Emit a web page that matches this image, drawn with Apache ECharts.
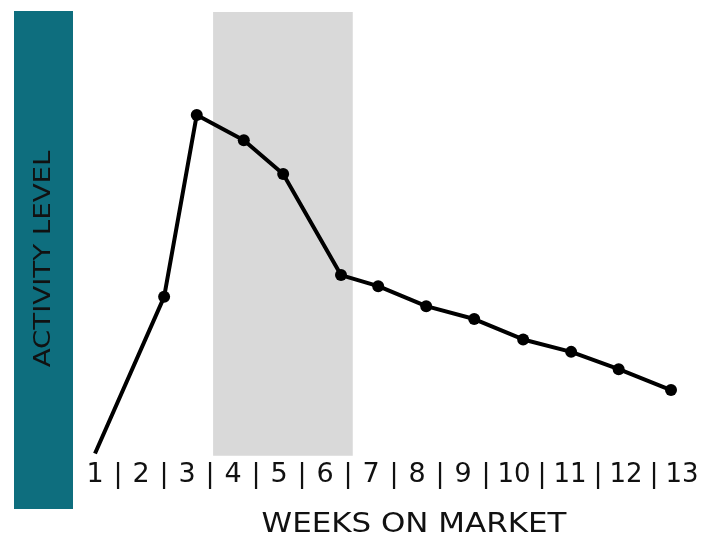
<!DOCTYPE html>
<html>
<head>
<meta charset="utf-8">
<script src="https://cdn.jsdelivr.net/npm/echarts@6/dist/echarts.min.js"></script>
<style>
  html, body { margin: 0; padding: 0; background: #ffffff; }
  #chart { width: 708px; height: 537px; }
</style>
</head>
<body>
<div id="chart"></div>
<script>
// Week position of each observation (fractional where the point sits between weeks)
const weeks = [1, 2.44, 3.12, 4.1, 4.92, 6.125, 6.9, 7.9, 8.9, 9.92, 10.92, 11.91, 13];
// Relative activity level (0-100)
const activity = [0.5, 35.8, 76.8, 71.1, 63.5, 40.7, 38.2, 33.7, 30.8, 26.2, 23.4, 19.5, 14.8];
// Highlighted window, in week units
const peakWindow = [3.46, 6.37];
// Week labels along the bottom
const weekLabels = ['1', '2', '3', '4', '5', '6', '7', '8', '9', '10', '11', '12', '13'];

const FONT = '"DejaVu Sans", Lato, sans-serif';

const points = weeks.map((w, i) => {
  const item = { value: [w, activity[i]] };
  if (i === 0) item.symbol = 'none';
  return item;
});

// "1 | 2 | 3 ..." as one rich-text run, each number and bar in its own fixed-width cell
const labelRun = weekLabels
  .map(l => '{' + (l.length > 1 ? 'w' : 'd') + '|' + l + '}')
  .join('{s||}');
const cell = (width, size) => ({ width: width, align: 'center', font: size + 'px ' + FONT, fill: '#111111' });

const chart = echarts.init(document.getElementById('chart'), null, { renderer: 'canvas' });

chart.setOption({
  animation: false,
  backgroundColor: '#ffffff',
  grid: { left: 95, right: 37, top: 12, bottom: 81.3 },
  xAxis: {
    type: 'value',
    min: 1,
    max: 13,
    axisLine: { show: false },
    axisTick: { show: false },
    axisLabel: { show: false },
    splitLine: { show: false }
  },
  yAxis: {
    type: 'value',
    min: 0,
    max: 100,
    axisLine: { show: false },
    axisTick: { show: false },
    axisLabel: { show: false },
    splitLine: { show: false }
  },
  graphic: [
    {
      type: 'rect',
      left: 14, top: 11, z: -10,
      shape: { width: 59, height: 498 },
      style: { fill: '#0e6e7e' }
    },
    {
      // vertical title, stretched along its reading direction for a wide geometric look
      type: 'text',
      x: 44, y: 259, z: 10,
      rotation: Math.PI / 2,
      scaleX: 1.2,
      style: {
        text: 'ACTIVITY LEVEL',
        fill: '#111111',
        font: '23px ' + FONT,
        align: 'center',
        verticalAlign: 'middle'
      }
    },
    {
      type: 'text',
      x: 391, y: 475, z: 10,
      style: {
        text: labelRun,
        fill: '#111111',
        font: '27px ' + FONT,
        align: 'center',
        verticalAlign: 'middle',
        rich: { d: cell(20, 27), w: cell(30, 26), s: cell(26, 27) }
      }
    },
    {
      type: 'text',
      x: 414, y: 525, z: 10,
      scaleX: 1.19,
      style: {
        text: 'WEEKS ON MARKET',
        fill: '#111111',
        font: '26px ' + FONT,
        align: 'center',
        verticalAlign: 'middle'
      }
    }
  ],
  series: [
    {
      type: 'line',
      data: points,
      symbol: 'circle',
      symbolSize: 12,
      lineStyle: { color: '#000000', width: 4 },
      itemStyle: { color: '#000000' },
      z: 5,
      markArea: {
        silent: true,
        itemStyle: { color: '#d9d9d9' },
        data: [[{ xAxis: peakWindow[0] }, { xAxis: peakWindow[1] }]]
      }
    }
  ]
});
</script>
</body>
</html>
